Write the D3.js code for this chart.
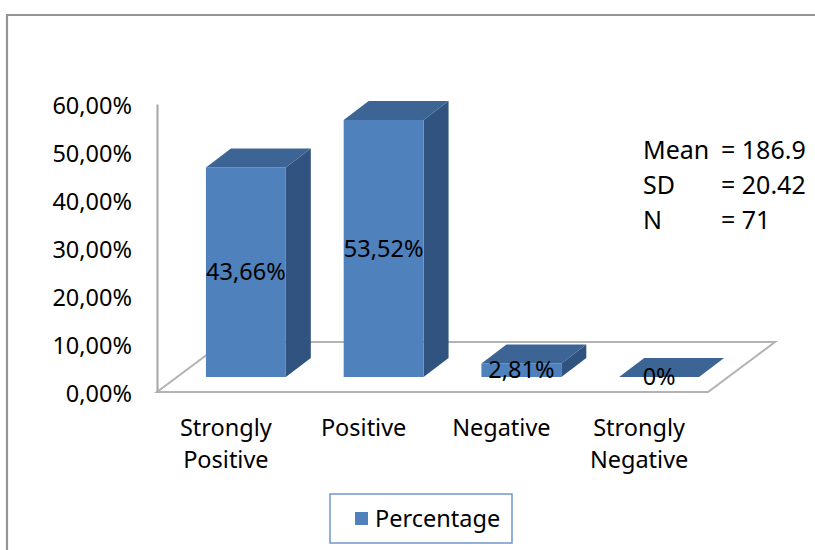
<!DOCTYPE html>
<html>
<head>
<meta charset="utf-8">
<script src="https://cdn.jsdelivr.net/npm/d3@7"></script>
<style>
  html, body { margin: 0; padding: 0; background: #fff; }
  svg { display: block; font-family: "Noto Sans", "Open Sans", sans-serif; }
</style>
</head>
<body>
<svg id="chart" width="815" height="550"></svg>
<script>
// data
var categories = ["Strongly Positive", "Positive", "Negative", "Strongly Negative"];
var categoryLines = [["Strongly", "Positive"], ["Positive"], ["Negative"], ["Strongly", "Negative"]];
var percentages = [0.4366, 0.5352, 0.0281, 0];
var yTicks = [0, 0.1, 0.2, 0.3, 0.4, 0.5, 0.6];
var statNames = ["Mean", "SD", "N"];
var statValues = ["= 186.9", "= 20.42", "= 71"];
var seriesName = "Percentage";

var svg = d3.select("#chart"),
    fontSize = 23.5,
    floorDx = 67, floorDy = -50,      // depth of the floor
    barFront = [20, -15],             // bar front offset inside the floor
    barDepth = [25, -19];             // depth of a bar

var locale = d3.formatLocale({decimal: ",", thousands: ".", grouping: [3], currency: ["", "€"]});
var pct = locale.format(".2%");
function valueLabel(v) { return v === 0 ? "0%" : pct(v); }

var x = d3.scaleBand()
    .domain(categories)
    .range([157, 708])
    .paddingInner(0.42)
    .paddingOuter(0.21);

var y = d3.scaleLinear()
    .domain([0, 0.6])
    .range([392, 104]);

// outer frame
svg.append("path")
    .attr("d", "M7,551V15H816")
    .attr("fill", "none")
    .attr("stroke", "#959595")
    .attr("stroke-width", 2.2);

// floor
var x0 = x.range()[0], x1 = x.range()[1], y0 = y(0);
svg.append("polygon")
    .attr("points", [[x0, y0], [x1, y0], [x1 + floorDx, y0 + floorDy], [x0 + floorDx, y0 + floorDy]].join(" "))
    .attr("fill", "#fff")
    .attr("stroke", "#b3b3b3")
    .attr("stroke-width", 2);

// y axis
var yAxis = svg.append("g")
    .attr("transform", "translate(" + x0 + ",0)")
    .call(d3.axisLeft(y).tickValues(yTicks).tickFormat(pct).tickSize(0).tickPadding(25));
yAxis.select(".domain").attr("stroke", "#a6a6a6").attr("stroke-width", 2);
yAxis.selectAll("text")
    .attr("font-size", fontSize)
    .attr("font-family", "Noto Sans")
    .attr("fill", "#000")
    .attr("dy", "0.4em");

// bars
var bars = svg.append("g").selectAll("g")
    .data(categories.map(function (c, i) { return {cat: c, v: percentages[i]}; }))
    .join("g");

function faces(d) {
    var l = x(d.cat) + barFront[0],
        r = l + x.bandwidth(),
        b = y(0) + barFront[1],
        t = y(d.v) + barFront[1],
        dx = barDepth[0], dy = barDepth[1];
    return {
        front: [[l, t], [r, t], [r, b], [l, b]],
        top: [[l, t], [r, t], [r + dx, t + dy], [l + dx, t + dy]],
        side: [[r, t], [r + dx, t + dy], [r + dx, b + dy], [r, b]]
    };
}

bars.filter(function (d) { return d.v > 0; }).append("polygon")
    .attr("points", function (d) { return faces(d).side.join(" "); })
    .attr("fill", "#31537f");
bars.filter(function (d) { return d.v > 0; }).append("polygon")
    .attr("points", function (d) { return faces(d).front.join(" "); })
    .attr("fill", "#4f81bd");
bars.append("polygon")
    .attr("points", function (d) { return faces(d).top.join(" "); })
    .attr("fill", "#3c6494");

// value labels
bars.append("text")
    .attr("x", function (d) { return x(d.cat) + barFront[0] + x.bandwidth() / 2; })
    .attr("y", function (d) { return (y(d.v) + y(0)) / 2 + barFront[1]; })
    .attr("dy", "0.35em")
    .attr("text-anchor", "middle")
    .attr("font-size", fontSize)
    .attr("fill", "#000")
    .text(function (d) { return valueLabel(d.v); });

// category labels
var cats = svg.append("g").selectAll("text")
    .data(categories)
    .join("text")
    .attr("text-anchor", "middle")
    .attr("font-size", fontSize)
    .attr("fill", "#000");
cats.each(function (c, i) {
    d3.select(this).selectAll("tspan")
        .data(categoryLines[i])
        .join("tspan")
        .attr("x", x(c) + x.bandwidth() / 2)
        .attr("y", function (s, j) { return 436 + j * 32; })
        .text(function (s) { return s; });
});

// stats box text
var stats = svg.append("g").attr("font-size", 25).attr("fill", "#000");
statNames.forEach(function (n, i) {
    stats.append("text").attr("x", 643).attr("y", 159 + i * 35).text(n);
    stats.append("text").attr("x", 721).attr("y", 159 + i * 35).text(statValues[i]);
});

// legend
var legend = svg.append("g");
legend.append("rect")
    .attr("x", 330).attr("y", 494)
    .attr("width", 182).attr("height", 49)
    .attr("fill", "#fff")
    .attr("stroke", "#7096cc")
    .attr("stroke-width", 1.5);
legend.append("rect")
    .attr("x", 355).attr("y", 512)
    .attr("width", 13).attr("height", 13)
    .attr("fill", "#4f81bd");
legend.append("text")
    .attr("x", 375).attr("y", 527)
    .attr("font-size", fontSize)
    .attr("fill", "#000")
    .text(seriesName);
</script>
</body>
</html>
